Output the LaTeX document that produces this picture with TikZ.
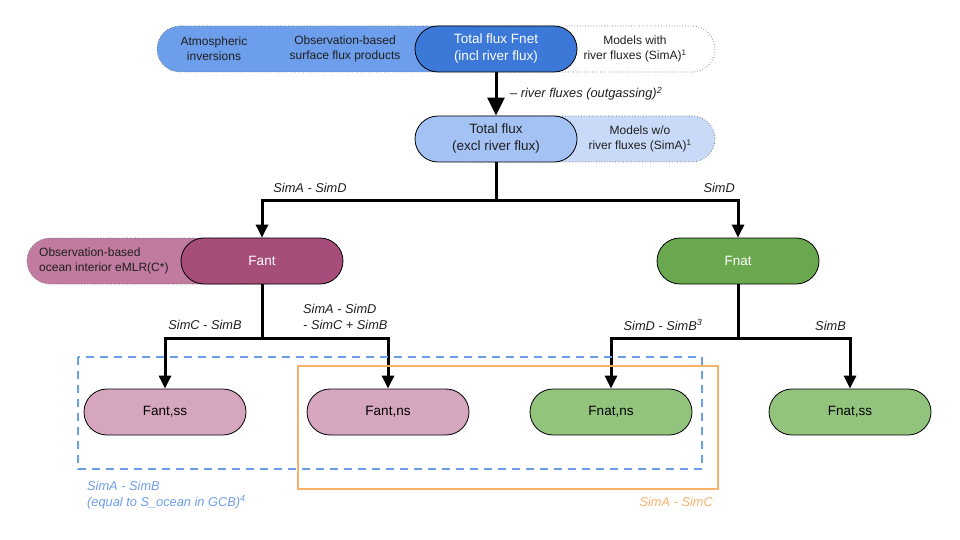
\documentclass[tikz,border=0pt]{standalone}
\usepackage{fontspec}
\setmainfont{Liberation Sans}
\usetikzlibrary{arrows.meta}
\definecolor{bandblue}{HTML}{6D9EEB}
\definecolor{fnetblue}{HTML}{3C78D8}
\definecolor{totblue}{HTML}{A4C2F4}
\definecolor{totext}{HTML}{C9DAF8}
\definecolor{fantmag}{HTML}{A64D79}
\definecolor{fantext}{HTML}{C27BA0}
\definecolor{fantlight}{HTML}{D5A6BD}
\definecolor{fnatgreen}{HTML}{6AA84F}
\definecolor{fnatlight}{HTML}{93C47D}
\definecolor{boxorange}{HTML}{F6B26B}
\definecolor{dottedgray}{HTML}{666666}
\definecolor{darktext}{HTML}{1F1F1F}
\begin{document}
\begin{tikzpicture}[x=1pt,y=-1pt,
  pillnode/.style={draw=black, line width=0.8pt, rounded corners=23pt, minimum width=162pt, minimum height=46pt, inner sep=0pt, align=center, font=\fontsize{13.5}{17}\selectfont, text=darktext},
  extpill/.style={draw=dottedgray, line width=0.7pt, dotted, rounded corners=23pt},
  smalltext/.style={align=center, font=\fontsize{12}{14.8}\selectfont, text=darktext, inner sep=0pt},
  conn/.style={line width=3pt, line join=miter, -{Triangle[width=12pt,length=13pt]}},
  bigconn/.style={line width=3pt, -{Triangle[width=17pt,length=18pt]}},
  plainconn/.style={line width=3pt, line join=miter},
  lbl/.style={font=\fontsize{12.8}{16}\selectfont\itshape, inner sep=0pt, text=darktext}
]
\useasboundingbox (0,0) rectangle (960,540);

% ---- top band ----
\fill[bandblue, rounded corners=23pt] (157,26) rectangle (496,72);
\draw[extpill] (157,26) rectangle (715,72);
\node[smalltext] (atm) at (214,49) {Atmospheric\\inversions};
\node[smalltext] (obs) at (345,49) {Observation-based\\surface flux products};
\node[smalltext] (mwith) at (635,49) {Models with\\river fluxes (SimA)\textsuperscript{1}};
\node[pillnode, fill=fnetblue, text=white] (fnet) at (496,49) {Total flux Fnet\\(incl river flux)};

% ---- total flux ----
\draw[extpill, fill=totext] (450,116) rectangle (715,162);
\node[smalltext] (mwo) at (640,139) {Models w/o\\river fluxes (SimA)\textsuperscript{1}};
\node[pillnode, fill=totblue] (tot) at (496,139) {Total flux\\(excl river flux)};

\draw[bigconn] (fnet.south) -- (tot.north);
\node[lbl, anchor=base west] (riv) at (510,98) {-- river fluxes (outgassing)\textsuperscript{2}};

% ---- Fant / Fnat ----
\draw[extpill, fill=fantext] (27,238) rectangle (290,284);
\node[smalltext, align=left, anchor=west] (eml) at (39,261) {Observation-based\\ocean interior eMLR(C*)};
\node[pillnode, fill=fantmag, text=white] (fant) at (262,261) {Fant};
\node[pillnode, fill=fnatgreen, text=white] (fnat) at (738,261) {Fnat};

\coordinate (b1) at (496,200);
\draw[plainconn] (tot.south) -- (b1);
\draw[conn] (b1) -| (fant.north);
\draw[conn] (b1) -| (fnat.north);
\node[lbl, anchor=base] (l1) at (310,193) {SimA - SimD};
\node[lbl, anchor=base east] (l2) at (735,193) {SimD};

% ---- bottom row ----
\node[pillnode, fill=fantlight, text=black] (fantss) at (165,412) {Fant,ss};
\node[pillnode, fill=fantlight, text=black] (fantns) at (388,412) {Fant,ns};
\node[pillnode, fill=fnatlight, text=black] (fnatns) at (611,412) {Fnat,ns};
\node[pillnode, fill=fnatlight, text=black] (fnatss) at (850,412) {Fnat,ss};

\coordinate (b2) at (262,338);
\coordinate (b3) at (738,338);
\draw[plainconn] (fant.south) -- (b2);
\draw[conn] (b2) -| (fantss.north);
\draw[conn] (b2) -| (fantns.north);
\draw[plainconn] (fnat.south) -- (b3);
\draw[conn] (b3) -| (fnatns.north);
\draw[conn] (b3) -| (fnatss.north);

\node[lbl, anchor=base] (l3) at (205,329) {SimC - SimB};
\node[lbl, anchor=base west, align=left] (l4) at (303,313) {SimA - SimD};
\node[lbl, anchor=base west] (l5) at (303,329) {- SimC + SimB};
\node[lbl, anchor=base] (l6) at (663,330) {SimD - SimB\textsuperscript{3}};
\node[lbl, anchor=base east] (l7) at (846,330) {SimB};

% ---- grouping boxes ----
\draw[bandblue, line width=2pt, dash pattern=on 8pt off 6pt] (78,357) rectangle (702,469);
\draw[boxorange, line width=2pt] (298,366) rectangle (718,489);
\node[lbl, text=bandblue, anchor=base west] (g1) at (87,490) {SimA - SimB};
\node[lbl, text=bandblue, anchor=base west] (g2) at (87,506) {(equal to S\_ocean in GCB)\textsuperscript{4}};
\node[lbl, text=boxorange, anchor=base east] (g3) at (713,506) {SimA - SimC};
\end{tikzpicture}
\end{document}
